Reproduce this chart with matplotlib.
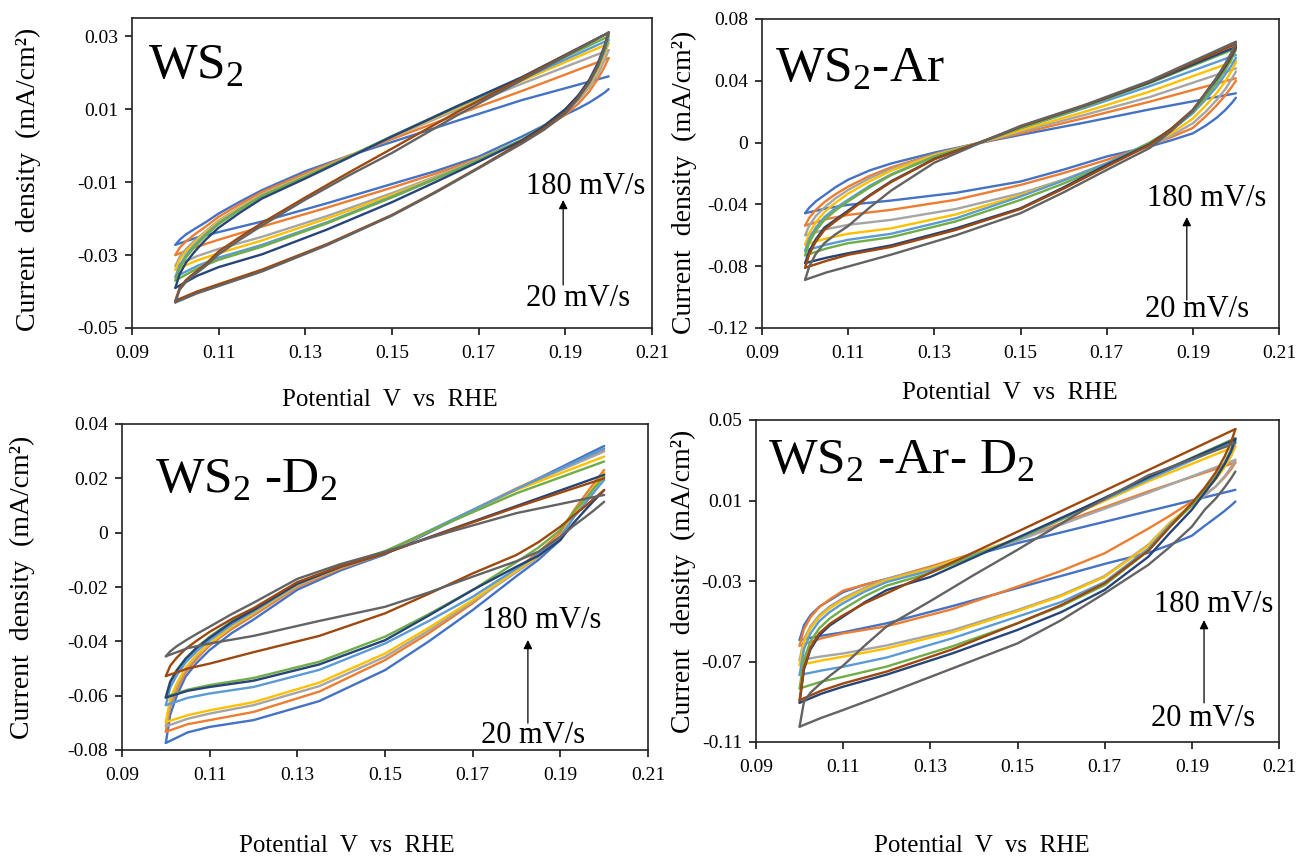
import matplotlib
matplotlib.use("Agg")
import matplotlib.pyplot as plt

plt.rcParams['font.family'] = ['Liberation Serif', 'DejaVu Serif']
plt.rcParams['mathtext.fontset'] = 'custom'
plt.rcParams['mathtext.rm'] = 'Liberation Serif'

# potentials of the read points: anodic (upper) branch, then cathodic (lower) branch
X_UP = [0.100, 0.101, 0.1025, 0.1045, 0.107, 0.110, 0.115, 0.120, 0.130, 0.140, 0.150, 0.165, 0.180, 0.200]
X_LOW = [0.200, 0.199, 0.1975, 0.1955, 0.193, 0.190, 0.185, 0.180, 0.170, 0.160, 0.150, 0.135, 0.120, 0.110, 0.105, 0.100]

# Excel palette, one colour per scan rate
COLORS = ['#4472C4', '#ED7D31', '#A5A5A5', '#FFC000', '#5B9BD5',
          '#70AD47', '#264478', '#9E480E', '#636363']

# WS2
WS2_UP = [
    [-0.0272, -0.0258, -0.0243, -0.0228, -0.0210, -0.0186, -0.0153, -0.0122, -0.0070, -0.0028, 0.0010, 0.0068, 0.0125, 0.0190],
    [-0.0300, -0.0280, -0.0262, -0.0243, -0.0222, -0.0195, -0.0160, -0.0127, -0.0076, -0.0028, 0.0018, 0.0085, 0.0150, 0.0240],
    [-0.0330, -0.0305, -0.0283, -0.0260, -0.0235, -0.0205, -0.0168, -0.0133, -0.0081, -0.0030, 0.0023, 0.0098, 0.0170, 0.0262],
    [-0.0340, -0.0313, -0.0290, -0.0265, -0.0238, -0.0208, -0.0170, -0.0135, -0.0083, -0.0030, 0.0025, 0.0103, 0.0178, 0.0280],
    [-0.0360, -0.0328, -0.0300, -0.0272, -0.0243, -0.0212, -0.0173, -0.0137, -0.0085, -0.0031, 0.0026, 0.0106, 0.0182, 0.0290],
    [-0.0370, -0.0336, -0.0306, -0.0277, -0.0247, -0.0215, -0.0175, -0.0139, -0.0086, -0.0031, 0.0026, 0.0108, 0.0186, 0.0300],
    [-0.0390, -0.0352, -0.0320, -0.0290, -0.0258, -0.0225, -0.0183, -0.0145, -0.0090, -0.0033, 0.0025, 0.0108, 0.0188, 0.0310],
    [-0.0425, -0.0390, -0.0368, -0.0348, -0.0325, -0.0290, -0.0250, -0.0212, -0.0142, -0.0074, -0.0008, 0.0092, 0.0185, 0.0310],
    [-0.0430, -0.0395, -0.0373, -0.0353, -0.0330, -0.0298, -0.0257, -0.0219, -0.0148, -0.0082, -0.0020, 0.0083, 0.0180, 0.0310],
]
WS2_LOW = [
    [0.0155, 0.0145, 0.0133, 0.0118, 0.0102, 0.0085, 0.0055, 0.0025, -0.0030, -0.0070, -0.0105, -0.0158, -0.0208, -0.0237, -0.0252, -0.0272],
    [0.0240, 0.0215, 0.0183, 0.0148, 0.0115, 0.0085, 0.0045, 0.0012, -0.0035, -0.0077, -0.0115, -0.0170, -0.0222, -0.0258, -0.0277, -0.0300],
    [0.0262, 0.0233, 0.0196, 0.0160, 0.0125, 0.0092, 0.0050, 0.0015, -0.0037, -0.0085, -0.0130, -0.0193, -0.0250, -0.0283, -0.0303, -0.0330],
    [0.0280, 0.0248, 0.0208, 0.0168, 0.0130, 0.0095, 0.0052, 0.0016, -0.0038, -0.0088, -0.0135, -0.0200, -0.0260, -0.0295, -0.0315, -0.0340],
    [0.0290, 0.0256, 0.0214, 0.0172, 0.0133, 0.0097, 0.0053, 0.0016, -0.0039, -0.0090, -0.0140, -0.0210, -0.0272, -0.0307, -0.0330, -0.0360],
    [0.0300, 0.0264, 0.0220, 0.0176, 0.0136, 0.0099, 0.0054, 0.0016, -0.0040, -0.0092, -0.0142, -0.0213, -0.0277, -0.0313, -0.0337, -0.0370],
    [0.0310, 0.0272, 0.0226, 0.0180, 0.0138, 0.0100, 0.0053, 0.0014, -0.0044, -0.0100, -0.0155, -0.0230, -0.0298, -0.0333, -0.0357, -0.0390],
    [0.0310, 0.0268, 0.0220, 0.0175, 0.0133, 0.0092, 0.0047, 0.0010, -0.0060, -0.0127, -0.0190, -0.0270, -0.0340, -0.0380, -0.0400, -0.0425],
    [0.0310, 0.0266, 0.0218, 0.0172, 0.0130, 0.0088, 0.0043, 0.0006, -0.0062, -0.0129, -0.0192, -0.0273, -0.0345, -0.0385, -0.0405, -0.0430],
]

# WS2-Ar
WS2AR_UP = [
    [-0.0457, -0.0420, -0.0380, -0.0340, -0.0290, -0.0240, -0.0180, -0.0135, -0.0065, -0.0005, 0.0050, 0.0130, 0.0215, 0.0319],
    [-0.0537, -0.0485, -0.0435, -0.0385, -0.0335, -0.0285, -0.0215, -0.0160, -0.0075, -0.0005, 0.0060, 0.0160, 0.0265, 0.0416],
    [-0.0600, -0.0535, -0.0475, -0.0420, -0.0362, -0.0306, -0.0230, -0.0170, -0.0078, -0.0005, 0.0071, 0.0180, 0.0295, 0.0480],
    [-0.0660, -0.0585, -0.0515, -0.0450, -0.0390, -0.0330, -0.0250, -0.0182, -0.0082, -0.0005, 0.0080, 0.0200, 0.0330, 0.0530],
    [-0.0700, -0.0620, -0.0550, -0.0482, -0.0425, -0.0370, -0.0280, -0.0205, -0.0090, -0.0005, 0.0093, 0.0225, 0.0365, 0.0567],
    [-0.0730, -0.0645, -0.0570, -0.0500, -0.0440, -0.0380, -0.0290, -0.0210, -0.0092, -0.0005, 0.0093, 0.0233, 0.0385, 0.0610],
    [-0.0780, -0.0700, -0.0625, -0.0550, -0.0500, -0.0440, -0.0340, -0.0250, -0.0105, -0.0005, 0.0103, 0.0240, 0.0390, 0.0620],
    [-0.0810, -0.0720, -0.0640, -0.0565, -0.0510, -0.0450, -0.0345, -0.0255, -0.0108, -0.0005, 0.0103, 0.0242, 0.0395, 0.0638],
    [-0.0888, -0.0800, -0.0720, -0.0650, -0.0595, -0.0540, -0.0420, -0.0310, -0.0130, -0.0010, 0.0108, 0.0245, 0.0400, 0.0653],
]
WS2AR_LOW = [
    [0.0290, 0.0255, 0.0210, 0.0160, 0.0110, 0.0060, 0.0015, -0.0025, -0.0090, -0.0175, -0.0252, -0.0325, -0.0375, -0.0403, -0.0425, -0.0457],
    [0.0400, 0.0360, 0.0305, 0.0240, 0.0170, 0.0095, 0.0035, -0.0015, -0.0112, -0.0197, -0.0274, -0.0370, -0.0435, -0.0468, -0.0495, -0.0537],
    [0.0460, 0.0410, 0.0345, 0.0275, 0.0200, 0.0125, 0.0045, -0.0020, -0.0134, -0.0240, -0.0328, -0.0430, -0.0500, -0.0532, -0.0560, -0.0600],
    [0.0520, 0.0465, 0.0395, 0.0320, 0.0240, 0.0155, 0.0060, -0.0010, -0.0134, -0.0245, -0.0340, -0.0465, -0.0555, -0.0590, -0.0620, -0.0660],
    [0.0550, 0.0500, 0.0440, 0.0360, 0.0280, 0.0190, 0.0080, 0.0000, -0.0134, -0.0245, -0.0349, -0.0490, -0.0590, -0.0629, -0.0660, -0.0700],
    [0.0600, 0.0540, 0.0470, 0.0385, 0.0295, 0.0200, 0.0085, 0.0000, -0.0145, -0.0265, -0.0371, -0.0510, -0.0612, -0.0651, -0.0685, -0.0730],
    [0.0615, 0.0560, 0.0490, 0.0410, 0.0320, 0.0211, 0.0090, -0.0010, -0.0144, -0.0290, -0.0425, -0.0555, -0.0665, -0.0716, -0.0745, -0.0780],
    [0.0630, 0.0572, 0.0500, 0.0418, 0.0325, 0.0211, 0.0088, -0.0015, -0.0155, -0.0298, -0.0430, -0.0565, -0.0675, -0.0726, -0.0765, -0.0810],
    [0.0650, 0.0585, 0.0510, 0.0420, 0.0320, 0.0205, 0.0075, -0.0035, -0.0177, -0.0322, -0.0457, -0.0600, -0.0725, -0.0802, -0.0840, -0.0888],
]

# WS2 -D2
WS2D2_UP = [
    [-0.0774, -0.0670, -0.0600, -0.0530, -0.0480, -0.0432, -0.0370, -0.0320, -0.0210, -0.0138, -0.0080, 0.0040, 0.0160, 0.0319],
    [-0.0733, -0.0640, -0.0580, -0.0515, -0.0465, -0.0415, -0.0355, -0.0305, -0.0200, -0.0132, -0.0076, 0.0044, 0.0163, 0.0305],
    [-0.0713, -0.0625, -0.0565, -0.0505, -0.0455, -0.0410, -0.0348, -0.0298, -0.0195, -0.0128, -0.0074, 0.0044, 0.0160, 0.0299],
    [-0.0697, -0.0612, -0.0555, -0.0497, -0.0450, -0.0408, -0.0345, -0.0295, -0.0192, -0.0126, -0.0072, 0.0043, 0.0157, 0.0280],
    [-0.0635, -0.0570, -0.0525, -0.0478, -0.0437, -0.0396, -0.0338, -0.0290, -0.0190, -0.0124, -0.0071, 0.0045, 0.0160, 0.0310],
    [-0.0604, -0.0548, -0.0505, -0.0463, -0.0423, -0.0383, -0.0327, -0.0282, -0.0185, -0.0121, -0.0068, 0.0040, 0.0145, 0.0262],
    [-0.0607, -0.0550, -0.0508, -0.0465, -0.0425, -0.0387, -0.0330, -0.0285, -0.0188, -0.0125, -0.0076, 0.0012, 0.0098, 0.0213],
    [-0.0528, -0.0490, -0.0460, -0.0428, -0.0398, -0.0365, -0.0318, -0.0278, -0.0182, -0.0123, -0.0076, 0.0010, 0.0094, 0.0200],
    [-0.0455, -0.0437, -0.0418, -0.0397, -0.0373, -0.0346, -0.0300, -0.0258, -0.0170, -0.0115, -0.0070, 0.0004, 0.0072, 0.0139],
]
WS2D2_LOW = [
    [0.0219, 0.0195, 0.0160, 0.0115, 0.0060, -0.0027, -0.0100, -0.0160, -0.0285, -0.0400, -0.0506, -0.0620, -0.0690, -0.0715, -0.0735, -0.0774],
    [0.0231, 0.0210, 0.0178, 0.0135, 0.0080, 0.0000, -0.0072, -0.0135, -0.0260, -0.0370, -0.0469, -0.0585, -0.0660, -0.0690, -0.0705, -0.0733],
    [0.0215, 0.0193, 0.0160, 0.0115, 0.0060, -0.0020, -0.0090, -0.0145, -0.0254, -0.0360, -0.0457, -0.0565, -0.0635, -0.0666, -0.0685, -0.0713],
    [0.0219, 0.0197, 0.0163, 0.0118, 0.0063, -0.0015, -0.0085, -0.0140, -0.0248, -0.0350, -0.0445, -0.0552, -0.0624, -0.0654, -0.0672, -0.0697],
    [0.0194, 0.0175, 0.0145, 0.0105, 0.0055, -0.0015, -0.0080, -0.0132, -0.0236, -0.0325, -0.0408, -0.0505, -0.0568, -0.0592, -0.0608, -0.0635],
    [0.0206, 0.0188, 0.0160, 0.0120, 0.0075, 0.0010, -0.0055, -0.0108, -0.0211, -0.0300, -0.0383, -0.0475, -0.0535, -0.0561, -0.0578, -0.0604],
    [0.0157, 0.0140, 0.0115, 0.0080, 0.0035, -0.0027, -0.0085, -0.0125, -0.0211, -0.0305, -0.0396, -0.0485, -0.0545, -0.0568, -0.0582, -0.0607],
    [0.0157, 0.0143, 0.0123, 0.0095, 0.0063, 0.0022, -0.0035, -0.0082, -0.0150, -0.0225, -0.0297, -0.0380, -0.0440, -0.0482, -0.0500, -0.0528],
    [0.0114, 0.0100, 0.0080, 0.0055, 0.0025, -0.0015, -0.0070, -0.0105, -0.0162, -0.0220, -0.0273, -0.0325, -0.0380, -0.0408, -0.0425, -0.0455],
]

# WS2 -Ar- D2
WS2ARD2_UP = [
    [-0.0593, -0.0520, -0.0470, -0.0428, -0.0395, -0.0355, -0.0318, -0.0290, -0.0232, -0.0172, -0.0112, -0.0032, 0.0047, 0.0153],
    [-0.0621, -0.0540, -0.0480, -0.0430, -0.0390, -0.0348, -0.0318, -0.0290, -0.0228, -0.0162, -0.0096, 0.0028, 0.0145, 0.0289],
    [-0.0693, -0.0590, -0.0525, -0.0470, -0.0425, -0.0385, -0.0333, -0.0290, -0.0235, -0.0168, -0.0100, 0.0020, 0.0138, 0.0302],
    [-0.0718, -0.0605, -0.0535, -0.0480, -0.0435, -0.0394, -0.0340, -0.0296, -0.0238, -0.0163, -0.0090, 0.0050, 0.0195, 0.0369],
    [-0.0767, -0.0640, -0.0560, -0.0500, -0.0453, -0.0410, -0.0352, -0.0305, -0.0248, -0.0170, -0.0093, 0.0055, 0.0205, 0.0394],
    [-0.0834, -0.0690, -0.0600, -0.0535, -0.0485, -0.0440, -0.0375, -0.0323, -0.0260, -0.0175, -0.0090, 0.0060, 0.0215, 0.0410],
    [-0.0905, -0.0740, -0.0640, -0.0570, -0.0520, -0.0477, -0.0405, -0.0345, -0.0280, -0.0183, -0.0085, 0.0062, 0.0215, 0.0405],
    [-0.0892, -0.0730, -0.0630, -0.0560, -0.0512, -0.0470, -0.0410, -0.0361, -0.0259, -0.0157, -0.0055, 0.0098, 0.0251, 0.0455],
    [-0.1024, -0.0900, -0.0855, -0.0815, -0.0770, -0.0720, -0.0620, -0.0525, -0.0400, -0.0270, -0.0145, 0.0050, 0.0225, 0.0385],
]
WS2ARD2_LOW = [
    [0.0095, 0.0075, 0.0048, 0.0015, -0.0025, -0.0075, -0.0120, -0.0160, -0.0215, -0.0275, -0.0335, -0.0425, -0.0510, -0.0555, -0.0572, -0.0593],
    [0.0289, 0.0255, 0.0215, 0.0170, 0.0130, 0.0095, 0.0025, -0.0040, -0.0162, -0.0250, -0.0328, -0.0440, -0.0525, -0.0560, -0.0585, -0.0621],
    [0.0302, 0.0265, 0.0220, 0.0170, 0.0125, 0.0075, -0.0010, -0.0120, -0.0275, -0.0370, -0.0444, -0.0545, -0.0620, -0.0660, -0.0675, -0.0693],
    [0.0369, 0.0320, 0.0265, 0.0205, 0.0145, 0.0080, -0.0010, -0.0125, -0.0280, -0.0375, -0.0450, -0.0555, -0.0635, -0.0676, -0.0695, -0.0718],
    [0.0394, 0.0340, 0.0280, 0.0215, 0.0150, 0.0080, -0.0020, -0.0140, -0.0305, -0.0405, -0.0477, -0.0585, -0.0680, -0.0726, -0.0745, -0.0767],
    [0.0410, 0.0352, 0.0288, 0.0220, 0.0152, 0.0075, -0.0030, -0.0150, -0.0320, -0.0425, -0.0510, -0.0625, -0.0725, -0.0776, -0.0800, -0.0834],
    [0.0405, 0.0345, 0.0280, 0.0210, 0.0140, 0.0054, -0.0060, -0.0180, -0.0344, -0.0455, -0.0543, -0.0660, -0.0765, -0.0825, -0.0860, -0.0905],
    [0.0455, 0.0390, 0.0318, 0.0240, 0.0165, 0.0087, -0.0030, -0.0150, -0.0311, -0.0420, -0.0510, -0.0640, -0.0750, -0.0809, -0.0845, -0.0892],
    [0.0244, 0.0210, 0.0165, 0.0110, 0.0055, -0.0030, -0.0130, -0.0220, -0.0361, -0.0495, -0.0610, -0.0735, -0.0860, -0.0941, -0.0980, -0.1024],
]

X_TICKS = [0.09, 0.11, 0.13, 0.15, 0.17, 0.19, 0.21]
X_TICK_LABELS = ['0.09', '0.11', '0.13', '0.15', '0.17', '0.19', '0.21']

WS2_YTICKS = [-0.05, -0.03, -0.01, 0.01, 0.03]
WS2_YLABELS = ['-0.05', '-0.03', '-0.01', '0.01', '0.03']
WS2AR_YTICKS = [-0.12, -0.08, -0.04, 0.0, 0.04, 0.08]
WS2AR_YLABELS = ['-0.12', '-0.08', '-0.04', '0', '0.04', '0.08']
WS2D2_YTICKS = [-0.08, -0.06, -0.04, -0.02, 0.0, 0.02, 0.04]
WS2D2_YLABELS = ['-0.08', '-0.06', '-0.04', '-0.02', '0', '0.02', '0.04']
WS2ARD2_YTICKS = [-0.11, -0.07, -0.03, 0.01, 0.05]
WS2ARD2_YLABELS = ['-0.11', '-0.07', '-0.03', '0.01', '0.05']

W, H = 1299, 860
fig = plt.figure(figsize=(W / 100, H / 100), dpi=100)


def panel(box, ups, lows, ylim, yticks, ylabels, title, title_pos,
          ylab_pos, xlab_pos, t180, t20, arrow_x, arrow_y):
    left, top, right, bottom = box
    ax = fig.add_axes([left / W, 1 - bottom / H, (right - left) / W, (bottom - top) / H])
    # each sweep drawn on its own, so an unclosed loop keeps its gap at 0.2 V
    for up, low, c in zip(ups, lows, COLORS):
        ax.plot(X_UP, up, color=c, lw=1.7, solid_joinstyle='round', solid_capstyle='round')
        ax.plot(X_LOW, low, color=c, lw=1.7, solid_joinstyle='round', solid_capstyle='round')
    ax.set_xlim(0.09, 0.21)
    ax.set_ylim(*ylim)
    ax.set_xticks(X_TICKS)
    ax.set_xticklabels(X_TICK_LABELS)
    ax.set_yticks(yticks)
    ax.set_yticklabels(ylabels)
    ax.tick_params(labelsize=14, length=5, width=1.1, direction='out')
    ax.tick_params(axis='x', pad=7)
    ax.tick_params(axis='y', pad=5)
    for s in ax.spines.values():
        s.set_linewidth(1.2)
        s.set_color('#222222')
    ax.set_ylabel('Current  density  (mA/cm\u00b2)', fontsize=20)
    ax.yaxis.set_label_coords(*ylab_pos)
    ax.set_xlabel('Potential  V  vs  RHE', fontsize=18)
    ax.xaxis.set_label_coords(*xlab_pos)
    ax.text(title_pos[0], title_pos[1], title, transform=ax.transAxes,
            fontsize=37, ha='left', va='baseline')
    ax.text(t180[0], t180[1], '180 mV/s', fontsize=22, ha='center', va='center')
    ax.text(t20[0], t20[1], '20 mV/s', fontsize=22, ha='center', va='center')
    ax.annotate('', xy=(arrow_x, arrow_y[1]), xytext=(arrow_x, arrow_y[0]),
                arrowprops=dict(arrowstyle='-|>', color='black', lw=0.9,
                                mutation_scale=13, shrinkA=0, shrinkB=0))
    return ax


panel((132, 18, 652, 328), WS2_UP, WS2_LOW, (-0.05, 0.035),
      WS2_YTICKS, WS2_YLABELS, r'WS$_\mathregular{2}$', (0.031, 0.806),
      (-0.175, 0.48), (0.496, -0.197),
      (0.1948, -0.0113), (0.1929, -0.0420), 0.1895, (-0.0382, -0.0149))

panel((762, 19, 1279, 328), WS2AR_UP, WS2AR_LOW, (-0.12, 0.08),
      WS2AR_YTICKS, WS2AR_YLABELS, r'WS$_\mathregular{2}$-Ar', (0.025, 0.796),
      (-0.126, 0.47), (0.48, -0.175),
      (0.1931, -0.0359), (0.1910, -0.1083), 0.1886, (-0.1019, -0.0482))

panel((122, 424, 648, 750), WS2D2_UP, WS2D2_LOW, (-0.08, 0.04),
      WS2D2_YTICKS, WS2D2_YLABELS, r'WS$_\mathregular{2}$ -D$_\mathregular{2}$',
      (0.063, 0.791), (-0.165, 0.5), (0.428, -0.26),
      (0.1858, -0.0325), (0.1838, -0.0748), 0.1826, (-0.0701, -0.0395))

panel((756, 420, 1279, 742), WS2ARD2_UP, WS2ARD2_LOW, (-0.11, 0.05),
      WS2ARD2_YTICKS, WS2ARD2_YLABELS,
      r'WS$_\mathregular{2}$ -Ar- D$_\mathregular{2}$', (0.023, 0.835),
      (-0.115, 0.5), (0.432, -0.288),
      (0.1949, -0.0419), (0.1926, -0.0981), 0.1928, (-0.0906, -0.0494))

fig.savefig('out.png', dpi=100)
